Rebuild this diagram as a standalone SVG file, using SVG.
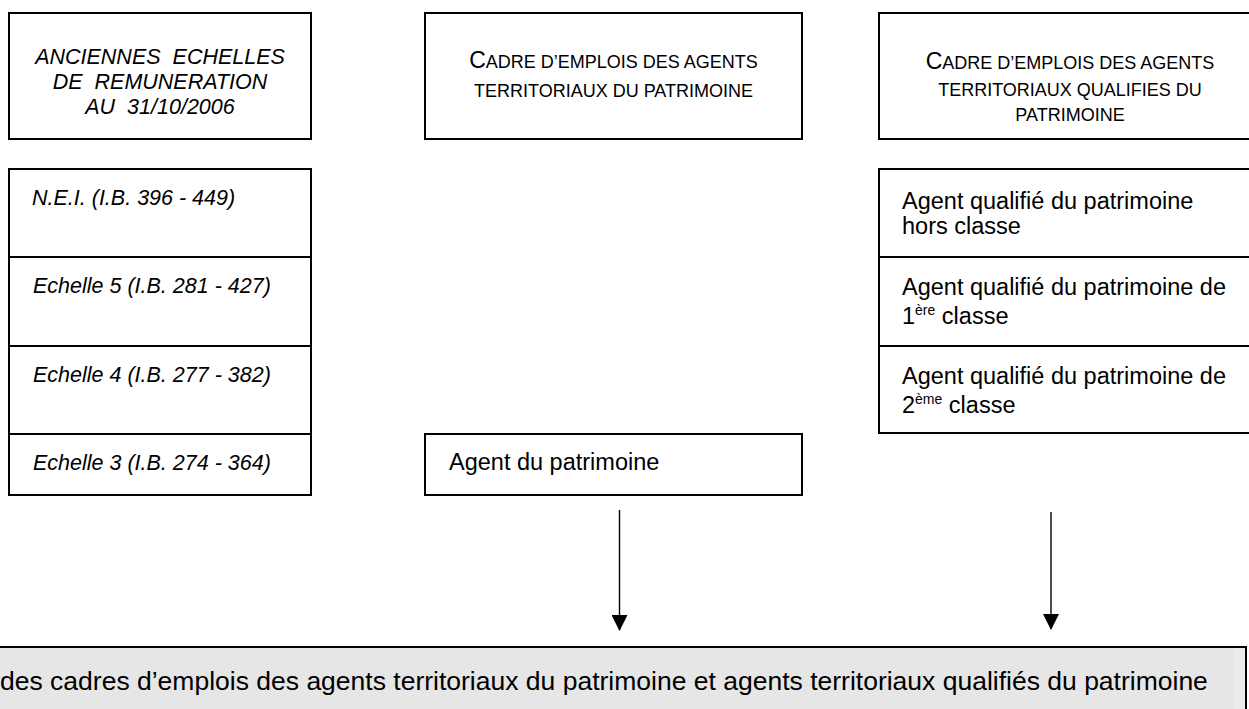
<svg xmlns="http://www.w3.org/2000/svg" width="1249" height="709" viewBox="0 0 1249 709">
<style>
text { font-family: "Liberation Sans", Arial, sans-serif; fill: #000; }
.box { fill: #fff; stroke: #000; stroke-width: 2; }
.it { font-style: italic; font-size: 21.5px; }
.hd { font-size: 18px; text-anchor: middle; }
.big { font-size: 23px; }
.rt { font-size: 23.5px; }
.sup { font-size: 14px; }
.conn { stroke: #000; stroke-width: 1.4; fill: none; }
</style>
<defs>
<marker id="arr" viewBox="0 0 16 16" refX="15" refY="8" markerWidth="16" markerHeight="16" markerUnits="userSpaceOnUse" orient="auto">
<path d="M0,0 L16,8 L0,16 Z" fill="#000"/>
</marker>
</defs>
<rect width="1249" height="709" fill="#fff"/>

<g id="hdr-anciennes">
<rect class="box" x="9" y="13" width="302" height="126"/>
<text class="it" x="160" y="64" text-anchor="middle" word-spacing="6">ANCIENNES ECHELLES</text>
<text class="it" x="160" y="89" text-anchor="middle" word-spacing="6">DE REMUNERATION</text>
<text class="it" x="160" y="114" text-anchor="middle" word-spacing="6">AU 31/10/2006</text>
</g>

<g id="hdr-agents">
<rect class="box" x="425" y="13" width="377" height="126"/>
<text class="hd" x="613.5" y="68"><tspan class="big">C</tspan>ADRE D’EMPLOIS DES AGENTS</text>
<text class="hd" x="613.5" y="97">TERRITORIAUX DU PATRIMOINE</text>
</g>

<g id="hdr-qualifies">
<rect class="box" x="879" y="13" width="400" height="126"/>
<text class="hd" x="1070" y="69"><tspan class="big">C</tspan>ADRE D’EMPLOIS DES AGENTS</text>
<text class="hd" x="1070" y="96">TERRITORIAUX QUALIFIES DU</text>
<text class="hd" x="1070" y="121">PATRIMOINE</text>
</g>

<g id="nei">
<rect class="box" x="9" y="169" width="302" height="88"/>
<text class="it" x="32" y="205">N.E.I. (I.B. 396 - 449)</text>
</g>
<g id="echelle5">
<rect class="box" x="9" y="257" width="302" height="89"/>
<text class="it" x="33" y="293">Echelle 5 (I.B. 281 - 427)</text>
</g>
<g id="echelle4">
<rect class="box" x="9" y="346" width="302" height="88"/>
<text class="it" x="33" y="382">Echelle 4 (I.B. 277 - 382)</text>
</g>
<g id="echelle3">
<rect class="box" x="9" y="434" width="302" height="61"/>
<text class="it" x="33" y="470">Echelle 3 (I.B. 274 - 364)</text>
</g>

<g id="agent">
<rect class="box" x="425" y="434" width="377" height="61"/>
<text class="rt" x="449" y="470">Agent du patrimoine</text>
</g>

<g id="aq-hors">
<rect class="box" x="879" y="169" width="400" height="88"/>
<text class="rt" x="902" y="209">Agent qualifié du patrimoine</text>
<text class="rt" x="902" y="234">hors classe</text>
</g>
<g id="aq-1">
<rect class="box" x="879" y="257" width="400" height="89"/>
<text class="rt" x="902" y="295">Agent qualifié du patrimoine de</text>
<text class="rt" x="902" y="324">1<tspan class="sup" dy="-9">ère</tspan><tspan dy="9"> classe</tspan></text>
</g>
<g id="aq-2">
<rect class="box" x="879" y="346" width="400" height="87"/>
<text class="rt" x="902" y="384">Agent qualifié du patrimoine de</text>
<text class="rt" x="902" y="413">2<tspan class="sup" dy="-9">ème</tspan><tspan dy="9"> classe</tspan></text>
</g>

<g id="connectors">
<line class="conn" x1="619.5" y1="510" x2="619.5" y2="630" marker-end="url(#arr)"/>
<line class="conn" x1="1051" y1="512" x2="1051" y2="629" marker-end="url(#arr)"/>
</g>

<g id="fusion">
<rect x="-10" y="647" width="1256" height="80" fill="#e6e6e6" stroke="#000" stroke-width="2"/>
<rect x="1233" y="648" width="12" height="61" fill="#ececec"/>
<text x="0" y="690" font-size="26.5px">des cadres d’emplois des agents territoriaux du patrimoine et agents territoriaux qualifiés du patrimoine</text>
</g>
</svg>
